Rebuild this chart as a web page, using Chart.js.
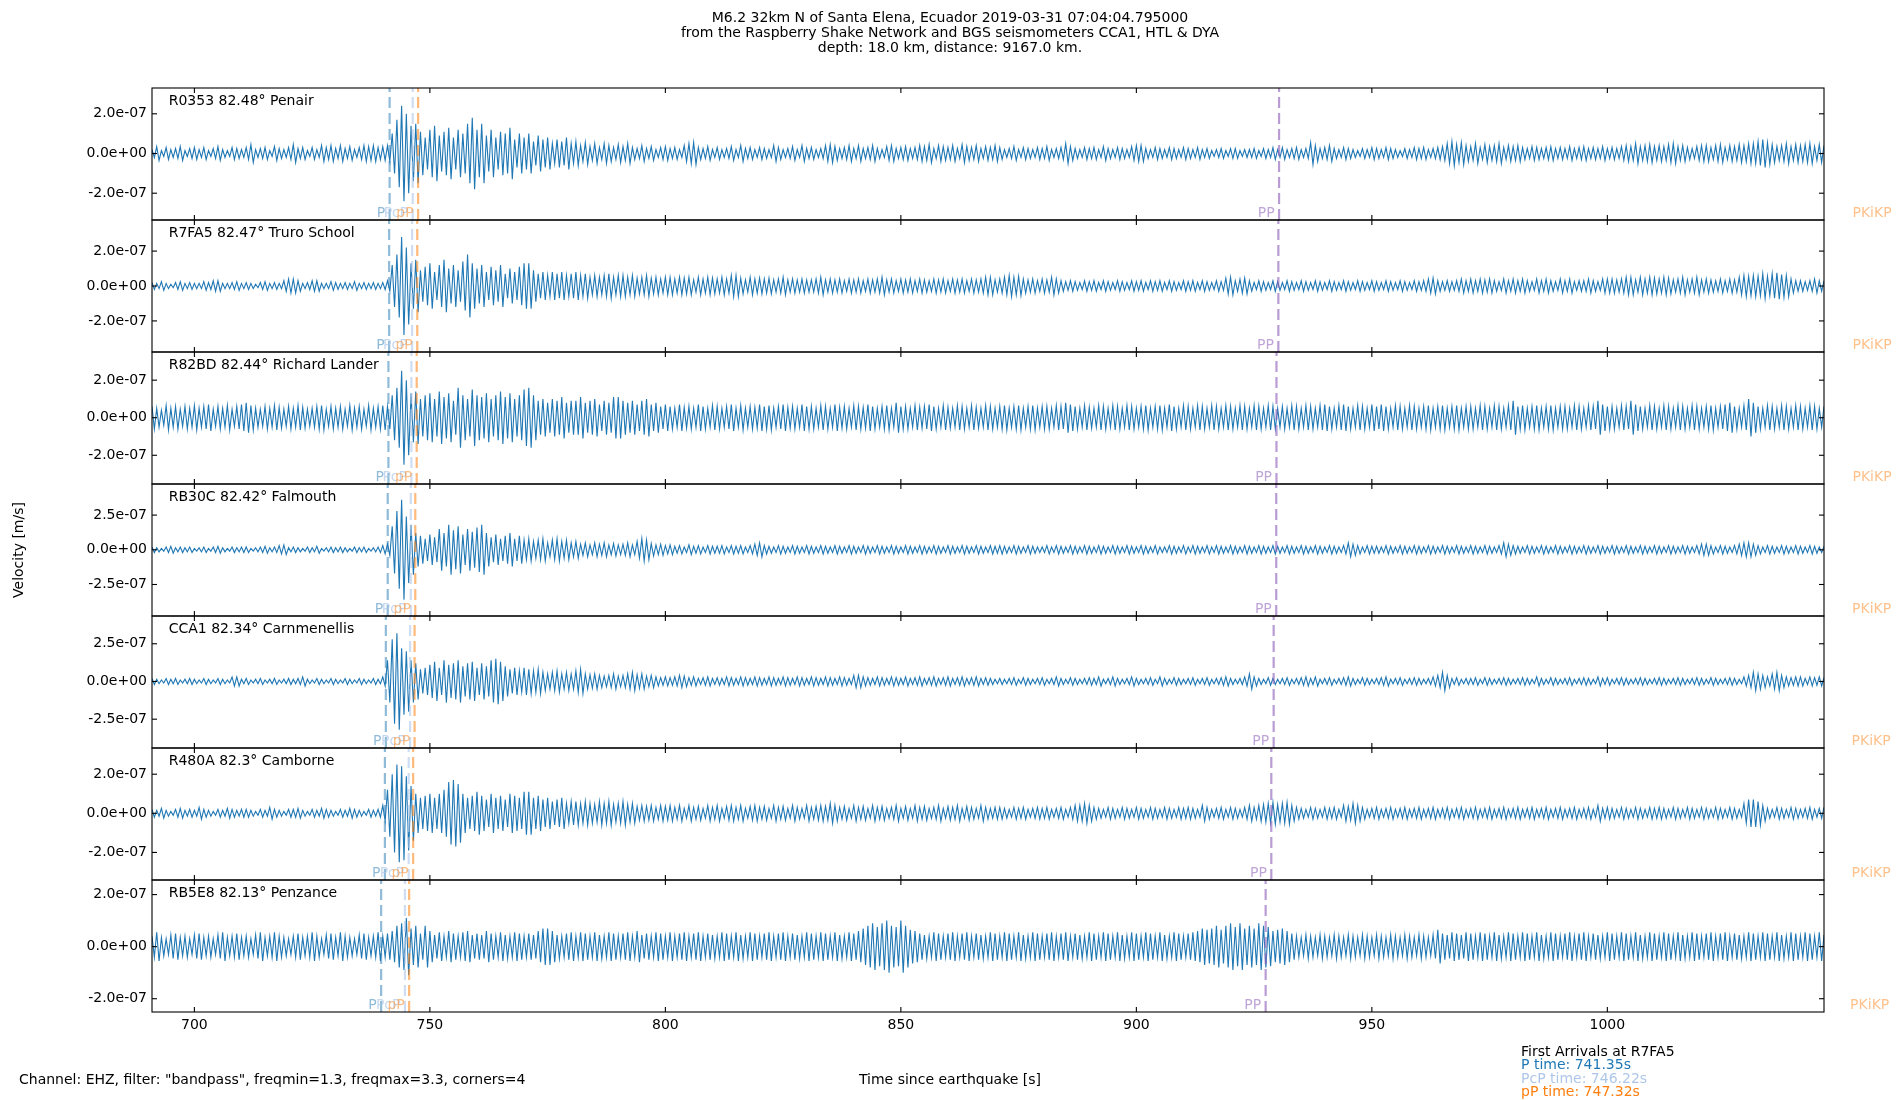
<!DOCTYPE html>
<html>
<head>
<meta charset="utf-8">
<title>M6.2 32km N of Santa Elena, Ecuador</title>
<script src="https://cdn.jsdelivr.net/npm/chart.js@4.4.1/dist/chart.umd.min.js"></script>
<style>
  html, body { margin: 0; padding: 0; background: #fff; }
  #seis { display: block; width: 1900px; height: 1100px; }
</style>
</head>
<body>
<canvas id="seis" width="1900" height="1100"></canvas>
<script>
// first envelope bin [s since earthquake], one bin per second
const tStart = 691;
const xTicks = [700, 750, 800, 850, 900, 950, 1000];

const stations = [
  "R0353 82.48° Penair",
  "R7FA5 82.47° Truro School",
  "R82BD 82.44° Richard Lander",
  "RB30C 82.42° Falmouth",
  "CCA1 82.34° Carnmenellis",
  "R480A 82.3° Camborne",
  "RB5E8 82.13° Penzance",
];

const yMin = [-3.35e-7, -3.78e-7, -3.53e-7, -4.77e-7, -4.41e-7, -3.41e-7, -2.51e-7];
const yMax = [3.30e-7, 3.78e-7, 3.50e-7, 4.74e-7, 4.34e-7, 3.34e-7, 2.56e-7];
const yTicks = [
  [-2e-7, 0, 2e-7],
  [-2e-7, 0, 2e-7],
  [-2e-7, 0, 2e-7],
  [-2.5e-7, 0, 2.5e-7],
  [-2.5e-7, 0, 2.5e-7],
  [-2e-7, 0, 2e-7],
  [-2e-7, 0, 2e-7],
];

// arrival times [s] per station
const pTimes = [741.45, 741.35, 741.2, 741.05, 740.65, 740.45, 739.65];
const pcpTimes = [746.35, 746.22, 746.08, 745.95, 745.8, 745.5, 744.7];
const pPTimes = [747.5, 747.32, 747.2, 746.9, 746.75, 746.45, 745.6];
const ppTimes = [930.3, 930.15, 929.75, 929.7, 929.15, 928.65, 927.45];
const pkikpTimes = [1061.3, 1061.3, 1061.3, 1061.2, 1061.1, 1061.1, 1060.8];

// peak velocity per 1 s bin, in 1e-8 m/s (10 s per group, 691..1046)
const envR0353 = [
  2,3.5,1.5,3,2,2.5,3.5,1.5,2.5,3, 2,3,1.5,2.5,3.5,2,1.5,3,2.5,2, 3,4.5,2,2.5,3,1.5,3.5,2.5,2,3,
  4.5,2.5,3,1.5,3,2,4,3,4,2.5, 4,2.5,3.5,2,3,4,3.5,4,3,3.5, 4,10,17,24,20,14,15,11,8,12,
  14,9,11,13,8,12,10,15,18,12, 15,9,12,8,11,10,13,7,10,8, 10,6,9,7,8,5,7,6,8,5,
  6,4,5.5,3.5,5,3,5,4,3,4.5, 3.5,5,3,2.5,4,2.5,3.5,2,3,3.5, 2.5,3,2,4,5,5.5,3,2.5,3.5,2,
  3,2,2.5,3.5,2,4,2.5,3,2,3, 2.5,2,4,3,2,2.5,3.5,2,4,2.5, 3,2,2.5,4,4.5,3.5,2.5,3,4,2.5,
  4,2.5,3,4,2.5,2,3.5,4,2.5,3, 3.5,2.5,3,4,3.5,4.5,2.5,4,3.5,3, 4,2.5,4.5,3.5,3,4,2.5,3.5,3,4,
  3,2,2.5,3.5,2,3,2.5,2,3,2.5, 3.5,2,2.5,3,5,3.5,2.5,2,3,2.5, 3,2,3.5,2.5,2,3,2.5,2,3.5,4,
  4,2.5,2,3,2.5,2,3,2.5,2,3, 2.5,2,3,2,2.5,1.5,2,2.5,1.5,2.5, 2.5,1.5,2,2,2.5,1.5,2.5,2,3,2,
  3,2,2.5,3,2,2.5,5.5,4,2.5,3, 4,2.5,2,3,2.5,2,1.5,2.5,2,3, 2.5,2,3,2.5,2,1.5,2.5,2,3,2.5,
  3,2,2.5,3,3.5,5,6,4.5,5.5,4, 3.5,5,3,4.5,3.5,4,5,3,4,3.5, 4,3,2.5,3.5,3,2.5,3,3.5,2.5,3,
  2.5,3.5,2.5,3,3.5,2.5,3,2.5,3.5,2.5, 3,2.5,3.5,4,3.5,5,3.5,4,4.5,3.5, 4,3.5,4.5,5,3.5,4,3,2.5,3.5,4,
  4,3,4,4.5,3,4,3.5,4.5,4,5, 5,6,7,5.5,4.5,3.5,4,5,3.5,4.5, 4,4.5,5,3.5,4.5,4,
];
const envR7FA5 = [
  2,1.5,2.5,1.5,1,2,2.5,1.5,2,1.5, 1.5,2.5,2,3,3,1.5,1.5,2,2.5,1.5, 2,1.5,1,2,2.5,1.5,2,1.5,3,4,
  4,3,1.5,2,3,3,1.5,1.5,2.5,2, 1.5,2,1.5,2.5,1.5,2,1.5,2,1.5,2, 3,12,18,28,22,13,15,9,11,13,
  8,12,15,10,12,9,14,18,13,10, 12,8,11,9,12,7,10,8,11,13, 13,9,7,8,6,8,7,8,6,7,
  8,6,7,5,6,5,6,7,5,6, 6,5,6,4.5,5,6,4.5,5,4,5, 5,4,5,4.5,5,3.5,5,4,5,4.5,
  4,5,4,6,6,4.5,3.5,5,4,4.5, 4,4.5,3.5,4,5,3.5,4,3.5,4,3.5, 3.5,4,5,3.5,4,3.5,4,3,4,3.5,
  4,3,4,3.5,4,5,3.5,4,3,4, 3.5,4,3,4,3.5,3,4,3.5,4,3, 4,3.5,4,3,4,3.5,4,5,5,3.5,
  4,5,6,5,5.5,4,3.5,4,3,4, 3.5,5,4,3,2.5,3,2.5,2,3,2.5, 3,2,3,2.5,2,3,2.5,2,3,2.5,
  3,2,3,2.5,3,2,3,2.5,2,3, 2.5,3,2,3,2.5,2,3,2.5,4.5,5, 3,4,4.5,3,2,3,2.5,2,3,2.5,
  2,3,2.5,2,3,2.5,2,3,2.5,2, 3,2.5,2,3,2.5,2,3,2.5,2,3, 2.5,2,3,2.5,2,3,2.5,2,3,2.5,
  3,4,4.5,3,2.5,3,2.5,3,4,3, 4,3,4,3.5,4,3,2.5,4,3,4, 3,4,3,2.5,4,3,4,3,2.5,4,
  3,4,2.5,3,3,4,3,2.5,4,4, 4,3.5,4,5,5,3.5,5,4,5,4.5, 4,5,4.5,3.5,4,5,3.5,4,5,3.5,
  4,3.5,3,4,3,4,3.5,5,6,5.5, 6,5.5,7,5.5,7,7.5,6.5,6,4,3, 3,2.5,3,4,3,3,
];
const envR82BD = [
  6,5,4,6.5,5,6,4.5,6,5,6.5, 5,6,7,4.5,6,5,6.5,4.5,6,7, 8,6.5,5,4.5,6,5,6.5,5.5,4.5,6,
  5,6.5,5.5,4.5,5,6,6.5,4.5,6,5, 6,4.5,6.5,5,6,4.5,6.5,5,6,6.5, 6,12,16,25,20,13,14,10,12,13,
  10,14,11,13,9,16,12,10,15,12, 11,13,10,12,14,11,13,10,12,15, 16,12,9,10,8,10,9,11,8,9,
  9,11,8,9,10,7,9,8,11,11, 9,8,9,7,9,10,7,8,6,7, 6,5,7,5.5,6,5,7,6,5,6.5,
  6,5,6,7,5,6.5,5,6,5.5,7, 6,6.5,5,6,7,5.5,6,5,7,6, 6,5,6.5,6,5,7,5.5,6,5,6.5,
  6,5.5,7,6,5,6,6.5,5,8,6, 6,5,6.5,5.5,6,7,6,5,6.5,5.5, 5,6.5,6,5,6.5,5.5,5,6.5,6,5,
  6,6.5,5,6,6.5,5,6,6.5,5,6, 6,5,6.5,6,8,7,6,5,6.5,5.5, 5,6.5,6,5,6.5,6,5,6.5,6,5,
  6,6.5,5,6,6.5,5,7,6,5,6.5, 6,5,6.5,6,5,6.5,6,5,6.5,6, 5,6.5,6,5,6.5,6,5,6.5,6,5,
  6,5,6.5,6,5,6.5,6,5,6.5,7, 6,5,6.5,7,6,5,6.5,6,5,7, 6,7,6,5,6.5,6,5,6.5,6,5,
  6,6.5,5,6,6.5,5,6,6.5,5,6, 6,5,6.5,6,5,6.5,6,5,6.5,9, 6,6.5,5,6,6.5,5,6,6.5,5,6,
  6,5,6.5,6,5,6.5,6,9,7,6, 6,5,6.5,6,9,7,6,5,6.5,6, 5,6.5,6,5,6.5,6,5,6.5,6,5,
  6,6.5,5,6,7,8,6,5,6.5,10, 8,6,5,6.5,6,5,6.5,6,5,6.5, 6,5,6.5,6,5,6,
];
const envRB30C = [
  2,1.5,1,2,2.5,1.5,2,1.5,2,1, 1.5,2,1,2,2.5,1.5,1,2,1.5,2, 2,1,1.5,2,2.5,1.5,2,3,3.5,1.5,
  2,1.5,1,2,1.5,2.5,1,1.5,2,1.5, 2,1.5,1,2,1.5,2,1,1.5,2,3, 4,17,28,36,24,18,12,10,8,11,
  9,15,12,18,14,17,11,15,13,16, 18,12,9,11,8,10,12,8,10,7, 8,6,7,8,5,7,8,6,7,5,
  6,4,5,3.5,5,4,5,3.5,4.5,3.5, 4,5,3.5,6,8,7,4.5,3.5,4,3, 3.5,2.5,3,2,3.5,2.5,3,2,3,2.5,
  2.5,3,2,3,2.5,3,2,3,4,5, 3,2.5,2,3,2.5,2,3,2.5,2,3, 2.5,2,3,2.5,2,3,2.5,2,3,2.5,
  2,3,2.5,2,3,2.5,2,3,2.5,2, 3,2.5,2,3,2.5,2,3,2.5,2,3, 2.5,2,3,2.5,2,3,2.5,2,3,2.5,
  3,2.5,2,3,2.5,2,3,2.5,2,2, 3,2,3,2.5,2,3,2.5,2,3,2.5, 2,3,2.5,2,3,2.5,2,3,2.5,2,
  3,2.5,2,3,2,2,3,2.5,2,3, 2,3,2.5,2,3,2,3,2.5,2,3, 2.5,2,3,2.5,2,3,2.5,2,3,2.5,
  2,3,2.5,2,3,2.5,2,3,2.5,2, 3,2.5,2,3,5,4,3,2,3,2.5, 2.5,2,3,2.5,2,3,2.5,2,3,2.5,
  2,3,2.5,2,3,2.5,2,3,2.5,2, 3,2.5,2,3,2.5,2,3,5,4,3, 2.5,2,3,2.5,2,3,2.5,2,3,2.5,
  2,3,2.5,2,3,2.5,2,3,2.5,2, 3,2.5,2,3,2.5,2,3,2.5,2,3, 2.5,2,3,2.5,2,3,2.5,2,3,4,
  4,3,2,3,2.5,2,3,4,5,5, 4,3,2,3,2.5,2,3,2.5,2,3, 2.5,2,3,2.5,2,2.5,
];
const envCCA1 = [
  2,1.5,1,2,1.5,2,1,1.5,2,1.5, 1,2,1.5,1,2,1.5,1,3,3,1.5, 2,1,1.5,2,1,1.5,2,1,1.5,2,
  1.5,2,3,1.5,1,2,1.5,1,2,1.5, 1,2,1.5,1,2,1.5,1,2,1.5,3, 14,28,32,22,20,14,12,8,9,11,
  13,9,14,11,12,14,10,12,13,9, 12,10,14,15,13,10,8,9,7,9, 8,7,8,6,5,6,7,5,6,5,
  7,8,5,4.5,5,4,3.5,4,5,3.5, 4,5,6,4.5,5,3.5,4,3,2.5,3, 2.5,3,4,3.5,2.5,3,2,2.5,3,2,
  2.5,2,3,2.5,2,3,2.5,2,3,2.5, 2,3,2.5,2,3,2.5,2,3,2.5,2, 3,2.5,2,3,2.5,2,3,2.5,2,4,
  4,3,2.5,2,3,2.5,2,3,2.5,2, 3,2,2.5,3,2,2.5,3,2,2.5,3, 2,2.5,3,2,2.5,3,2,2.5,2,1.5,
  2,1.5,2,2.5,1.5,2.5,2,1.5,2,2.5, 1.5,2,3,2,1.5,2.5,2,1.5,2,2.5, 2,3,1.5,2,3,2,1.5,2,3,2,
  1.5,2,2.5,1.5,3,2,1.5,2.5,2,1.5, 2,2.5,1.5,2,2.5,1.5,2,2.5,3,2, 1.5,2,3,5,3,2,1.5,2.5,2,1.5,
  2,2.5,1.5,2,2.5,3,2,3,1.5,2, 2.5,1.5,2,2.5,3,2,1.5,2.5,2,1.5, 2,2.5,3,1.5,2,2.5,1.5,2,2.5,2,
  1.5,2,3,4,6,4,2,2.5,1.5,2, 2,2.5,1.5,2.5,2,1.5,2,2.5,2,1.5, 2,2.5,2,1.5,3,2,1.5,2.5,2,1.5,
  2,2.5,1.5,2,2.5,2,1.5,3,2,2.5, 1.5,2,2.5,2,1.5,2,2.5,2,1.5,2, 2.5,2,1.5,2,2.5,2,1.5,2,2.5,2,
  1.5,2.5,2,1.5,2,2.5,2,1.5,3,4, 6,5,4,3,5,6,4,3,2.5,3, 3,2,3,2.5,3,2.5,
];
const envR480A = [
  2,1.5,2.5,1.5,1,2,2.5,1.5,2,1.5, 3,2,1.5,1,2,1.5,2.5,2,1.5,2, 2,1.5,1,2,1.5,3,2,1.5,1,2,
  2,2.5,1.5,1,2,1.5,2.5,2,1.5,1, 2,1.5,2.5,2,1.5,1,2,1.5,2,4, 12,20,25,24,19,14,10,8,9,10,
  8,10,12,16,17,15,10,8,9,11, 9,7,10,8,9,7,10,9,8,11, 11,8,9,7,8,6,7,8,5,6,
  6,5,6,5,4.5,6,5,6,4.5,5, 6,4.5,5,3.5,4,3.5,4,3,4,3.5, 4,3,4,2.5,4,3,3.5,2.5,4,3,
  4,2.5,3.5,4,3,4,2.5,3.5,4,3, 3.5,2.5,4,3,3.5,2.5,4,3,2.5,4, 3,3.5,4,3.5,5,4,3,3.5,2.5,4,
  3,3.5,2.5,4,3,3.5,2.5,3,4,2.5, 3.5,2.5,4,3,3.5,2.5,3,4,2.5,3.5, 3,4,2.5,3.5,3,2.5,4,3,2.5,3,
  3,2.5,2,3,2.5,3,2,2.5,3,2.5, 3,2,2.5,3,2,3,4,4,5,4, 3,2.5,2,3,2.5,2,3,2.5,2,3,
  2.5,2,3,2.5,2,3,2.5,2,3,2.5, 3,2.5,2,4,3,2,2.5,3,2,3, 2.5,2,3,4,3,4,4.5,5,5.5,4.5,
  5,5.5,4,3,2.5,2,3,2.5,2,3, 2.5,3,2,4,3.5,5,4,3,2,2.5, 3,2,2.5,3,2,2.5,3,2,2.5,3,
  2,2.5,3,2,2.5,3,2,2.5,3,2, 2.5,3,2,2.5,3,2,2.5,3,2,2.5, 3,2,2.5,3,2,2.5,3,2,2.5,3,
  2,2.5,3,2,2.5,3,2,4,2.5,3, 2.5,2,3,2.5,2,3,2.5,2,3,2.5, 3,2.5,2,3,2.5,2,3,2.5,2,3,
  2.5,2,3,2.5,2,3,2.5,2,5,7, 7,6,4,2.5,2,3,2.5,2,3,2.5, 2,2.5,3,2,2.5,3,
];
const envRB5E8 = [
  4,5.5,3.5,3,4.5,5,3.5,4,3,4.5, 5,3.5,4,3,4.5,5.5,3.5,4,5,3.5, 4,3,4.5,5.5,3.5,4,5.5,4,3.5,3,
  4,5,3.5,4,5.5,4,3,4.5,5,3.5, 5.5,4,3.5,3,4.5,5,3.5,4,5.5,4, 5,6,8,9,11,7,8,5,8,6,
  4.5,5.5,4,6,5,4,5.5,6,4.5,5, 4.5,6,5,4,5.5,4.5,4,5.5,5,4, 5,4.5,6,7,7,6,4.5,4,5,5.5,
  4,5.5,5,4,5.5,4.5,4,5.5,5,4, 5,5.5,4,6,4.5,5,4,5.5,5,4, 5.5,4,5,5.5,4,5,5.5,4,5,4.5,
  4,5.5,5,4,5.5,4.5,4,5.5,5,4, 5,5.5,4,5,5.5,4,5,4.5,4,5.5, 5,4,5.5,5,4,5.5,4.5,4,5.5,5,
  6,7,8,9,7.5,9,10,8,7.5,10, 8,6.5,6,5,4.5,4,5.5,5,4,5, 5.5,4,5,5.5,4,5,4.5,4,5.5,5,
  4,5.5,5,4,5.5,4.5,4,5.5,5,4, 5,5.5,4,5,5.5,4,5,4.5,4,5.5, 5,4,5.5,5,4,5.5,4.5,4,5.5,5,
  4,5.5,5,4,5.5,4.5,4,5.5,5,4, 5,5.5,6,7,6.5,7,8,6.5,8,9, 7.5,9,7,8,7,9,8,7.5,6,6.5,
  7,6,5,4,3.5,4.5,4,3.5,4.5,4, 3.5,4.5,4,3.5,4.5,4,3.5,4.5,4,3.5, 4.5,4,3.5,4.5,4,3.5,4.5,4,3.5,4.5,
  4,3.5,4.5,6.5,5,4.5,5.5,5,4.5,5.5, 5,4,5.5,5,4,5.5,4.5,4,5.5,5, 4,5.5,5,4,5.5,4.5,4,5.5,5,4,
  5,5.5,4,5,5.5,4,5,4.5,4,5.5, 5,4,5.5,5,4,5.5,4.5,4,5.5,5, 4,5.5,5,4,5.5,4.5,4,5.5,5,4,
  5,5.5,4,5,5.5,4,5,4.5,4,5.5, 5,4,5.5,5,4,5.5,4.5,4,5.5,5, 4,5.5,5,4,5.5,4.5,
];
const envelopes = [envR0353, envR7FA5, envR82BD, envRB30C, envCCA1, envR480A, envRB5E8];

const phases = [
  { name: "P", times: pTimes, line: "rgba(31,119,180,0.5)", text: "rgba(31,119,180,0.5)" },
  { name: "PcP", times: pcpTimes, line: "rgba(174,199,232,0.6)", text: "rgba(174,199,232,0.7)" },
  { name: "pP", times: pPTimes, line: "rgba(255,127,14,0.55)", text: "rgba(255,127,14,0.5)" },
  { name: "PP", times: ppTimes, line: "rgba(148,103,189,0.65)", text: "rgba(148,103,189,0.6)" },
  { name: "PKiKP", times: pkikpTimes, line: "rgba(255,127,14,0.5)", text: "rgba(255,150,60,0.6)" },
];

const FONT = '"DejaVu Sans", sans-serif';
Chart.defaults.font.family = FONT;
Chart.defaults.font.size = 14;
Chart.defaults.color = "#000";

function sci(v) {
  if (Math.abs(v) < 1e-20) return "0.0e+00";
  const parts = v.toExponential(1).split("e");
  const n = parseInt(parts[1], 10);
  return parts[0] + "e" + (n < 0 ? "-" : "+") + String(Math.abs(n)).padStart(2, "0");
}

// each 1 s bin is drawn as its upper and lower swing
function trace(env) {
  const pts = [];
  env.forEach((a, i) => {
    pts.push({ x: tStart + i, y: a * 1e-8 });
    pts.push({ x: tStart + i + 0.5, y: -a * 1e-8 });
  });
  return pts;
}

const datasets = [];
const scales = {
  x: {
    type: "linear",
    min: 691,
    max: 1046,
    afterBuildTicks: (axis) => { axis.ticks = xTicks.map((v) => ({ value: v })); },
    afterFit: (axis) => { axis.height = 88; },
    ticks: { callback: (v) => String(v), padding: 5, maxRotation: 0, autoSkip: false },
    grid: { display: false, drawTicks: false },
    border: { display: false },
  },
};

// left boxes are stacked last-defined first, so build bottom panel first
for (let i = stations.length - 1; i >= 0; i--) {
  scales["y" + i] = {
    type: "linear",
    position: "left",
    stack: "traces",
    stackWeight: 1,
    min: yMin[i],
    max: yMax[i],
    afterBuildTicks: (axis) => { axis.ticks = yTicks[i].map((v) => ({ value: v })); },
    afterFit: (axis) => { axis.width = 152; },
    ticks: { callback: (v) => sci(v), padding: 5, autoSkip: false },
    grid: { display: false, drawTicks: false },
    border: { display: false },
  };
}

stations.forEach((s, i) => {
  datasets.push({
    label: s,
    data: trace(envelopes[i]),
    yAxisID: "y" + i,
    borderColor: "#1f77b4",
    borderWidth: 1.1,
    pointRadius: 0,
    tension: 0,
    order: 2,
  });
  phases.forEach((ph) => {
    datasets.push({
      label: ph.name,
      data: [{ x: ph.times[i], y: yMin[i] }, { x: ph.times[i], y: yMax[i] }],
      yAxisID: "y" + i,
      borderColor: ph.line,
      borderWidth: 2.2,
      borderDash: [11, 5],
      pointRadius: 0,
      order: 1,
    });
  });
});

const panelText = {
  id: "panelText",
  afterDraw(chart) {
    const ctx = chart.ctx;
    const xs = chart.scales.x;
    const area = chart.chartArea;
    const seg = (x1, y1, x2, y2) => {
      ctx.beginPath(); ctx.moveTo(x1, y1); ctx.lineTo(x2, y2); ctx.stroke();
    };
    ctx.save();
    ctx.font = "14px " + FONT;
    stations.forEach((name, i) => {
      const ys = chart.scales["y" + i];
      const h = ys.bottom - ys.top;
      ctx.strokeStyle = "#000";
      ctx.lineWidth = 1.1;
      ctx.strokeRect(area.left, ys.top, area.right - area.left, h);
      yTicks[i].forEach((v) => {
        const y = ys.getPixelForValue(v);
        seg(area.left, y, area.left + 5, y);
        seg(area.right - 5, y, area.right, y);
      });
      xTicks.forEach((v) => {
        const x = xs.getPixelForValue(v);
        seg(x, ys.top, x, ys.top + 5);
        seg(x, ys.bottom - 5, x, ys.bottom);
      });
      ctx.fillStyle = "#000";
      ctx.textAlign = "left";
      ctx.textBaseline = "top";
      ctx.fillText(name, area.left + 0.01 * (area.right - area.left), ys.top + 0.05 * h);
      ctx.textAlign = "right";
      ctx.textBaseline = "bottom";
      phases.forEach((ph) => {
        ctx.fillStyle = ph.text;
        ctx.fillText(ph.name + " ", xs.getPixelForValue(ph.times[i]), ys.bottom);
      });
    });

    // figure texts
    ctx.fillStyle = "#000";
    ctx.textAlign = "center";
    ctx.textBaseline = "middle";
    ctx.fillText("M6.2 32km N of Santa Elena, Ecuador 2019-03-31 07:04:04.795000", 950, 18);
    ctx.fillText("from the Raspberry Shake Network and BGS seismometers CCA1, HTL & DYA", 950, 33);
    ctx.fillText("depth: 18.0 km, distance: 9167.0 km.", 950, 48);
    ctx.fillText("Time since earthquake [s]", 950, 1080);
    ctx.save();
    ctx.translate(19, 550);
    ctx.rotate(-Math.PI / 2);
    ctx.fillText("Velocity [m/s]", 0, 0);
    ctx.restore();
    ctx.textAlign = "left";
    ctx.fillText('Channel: EHZ, filter: "bandpass", freqmin=1.3, freqmax=3.3, corners=4', 19, 1080);
    ctx.fillText("First Arrivals at R7FA5", 1521, 1052);
    ctx.fillStyle = "#1f77b4";
    ctx.fillText("P time: " + pTimes[1].toFixed(2) + "s", 1521, 1065.5);
    ctx.fillStyle = "#aec7e8";
    ctx.fillText("PcP time: " + pcpTimes[1].toFixed(2) + "s", 1521, 1079);
    ctx.fillStyle = "#ff7f0e";
    ctx.fillText("pP time: " + pPTimes[1].toFixed(2) + "s", 1521, 1092.5);
    ctx.restore();
  },
};

new Chart(document.getElementById("seis"), {
  type: "line",
  data: { datasets },
  options: {
    responsive: false,
    devicePixelRatio: 1,
    animation: false,
    layout: { padding: { top: 88, right: 76, bottom: 0, left: 0 } },
    scales,
    plugins: {
      legend: { display: false },
      tooltip: { enabled: false },
      title: { display: false },
    },
  },
  plugins: [panelText],
});
</script>
</body>
</html>
